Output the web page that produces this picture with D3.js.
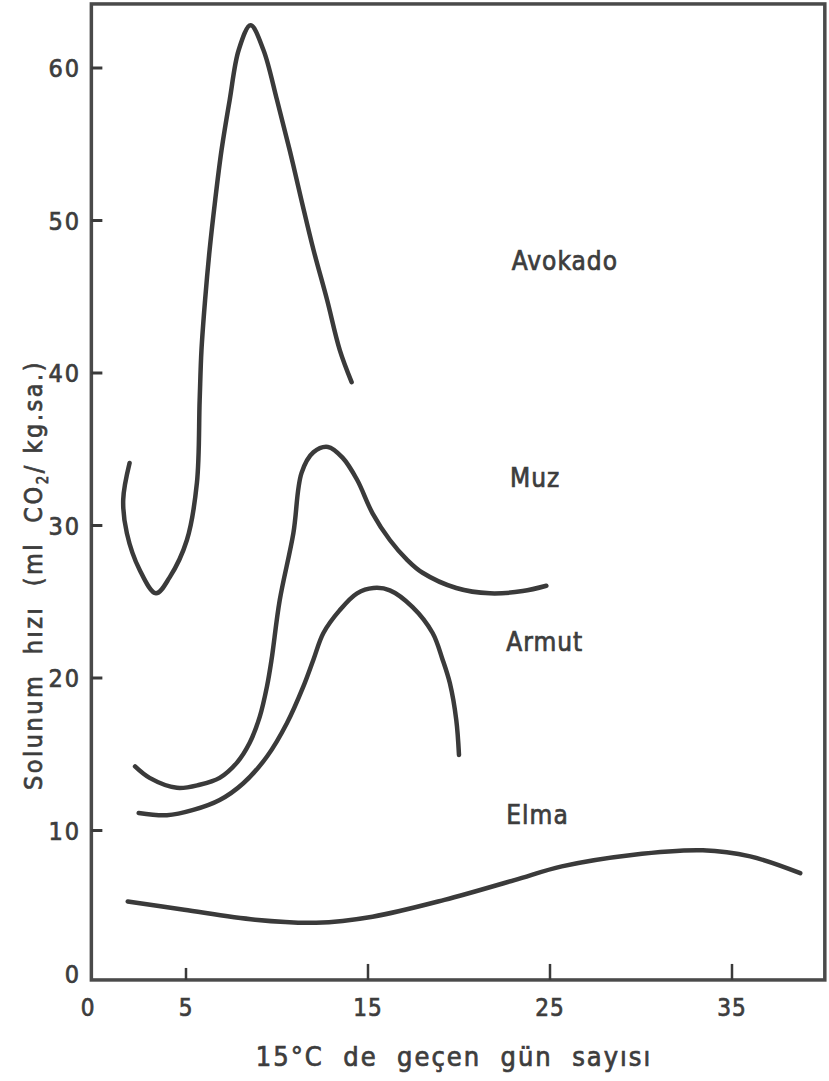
<!DOCTYPE html>
<html>
<head>
<meta charset="utf-8">
<script src="https://cdn.jsdelivr.net/npm/d3@7.9.0/dist/d3.min.js"></script>
<style>
  html, body { margin: 0; padding: 0; background: #fff; }
  svg { display: block; }
  text {
    font-family: "DejaVu Sans Condensed", "DejaVu Sans", sans-serif;
    font-stretch: condensed;
    fill: #3d3d3d;
    stroke: #3d3d3d;
    stroke-width: 0.7px;
  }
</style>
</head>
<body>
<svg id="chart" width="829" height="1081"></svg>
<script>
// Respiration rate (ml CO2 / kg.h) vs days at 15 °C
const avokado = [
  [1.9, 34.1], [1.55, 31.7], [1.75, 29.5], [2.45, 27.1], [3.35, 25.55],
  [4.1, 26.6], [5.05, 29.05], [5.6, 32.8], [5.75, 38.2], [5.85, 41.5],
  [6.05, 44.8], [6.3, 48.1], [6.6, 51.3], [6.95, 54.6], [7.4, 57.9],
  [7.9, 61.2], [8.55, 62.8], [9.25, 61.2], [10.0, 57.9], [10.7, 54.6],
  [11.35, 51.3], [12.0, 48.1], [12.75, 44.8], [13.45, 41.5], [14.1, 39.4]
];

const muz = [
  [2.2, 14.2], [3.0, 13.45], [4.5, 12.8], [5.75, 13.0], [6.85, 13.45],
  [7.8, 14.45], [8.5, 15.75], [9.05, 17.45], [9.45, 19.45], [9.7, 21.2],
  [10.15, 25.1], [10.9, 29.5], [11.35, 33.45], [12.0, 34.8], [12.8, 35.15],
  [13.6, 34.45], [14.4, 33.0], [15.25, 30.8], [16.2, 29.05], [17.15, 27.75],
  [18.0, 26.9], [19.85, 25.9], [21.7, 25.55], [23.5, 25.7], [24.8, 26.05]
];

const armut = [
  [2.4, 11.15], [3.95, 11.0], [5.4, 11.35], [6.85, 12.0], [8.15, 13.1],
  [9.45, 14.85], [10.55, 17.05], [11.45, 19.45], [12.0, 21.2], [12.55, 22.95],
  [13.45, 24.45], [14.4, 25.55], [15.3, 25.9], [16.2, 25.75], [17.45, 24.65],
  [18.55, 22.95], [19.1, 21.2], [19.5, 19.65], [19.85, 17.25], [20.0, 14.95]
];

const elma = [
  [1.8, 5.35], [4.9, 4.8], [8.8, 4.15], [12.15, 3.95], [15.25, 4.35],
  [19.2, 5.45], [23.05, 6.75], [25.65, 7.65], [29.5, 8.4], [33.4, 8.7],
  [36.0, 8.3], [38.75, 7.2]
];

// curve names and where the hand lettering sits (day, rate of baseline start)
const seriesLabels = [
  { name: "Avokado", at: [22.9, 46.75] },
  { name: "Muz", at: [22.8, 32.5] },
  { name: "Armut", at: [22.6, 21.8] },
  { name: "Elma", at: [22.6, 10.4] }
];

const yTicks = [0, 10, 20, 30, 40, 50, 60];
const xTicks = [5, 15, 25, 35];
const xTickLabels = [0, 5, 15, 25, 35];

const yTitle = "Solunum  hızı  (ml  CO";
const yTitleSub = "2";
const yTitleEnd = "/ kg.sa.)";
const xTitle = "15°C  de  geçen  gün  sayısı";

const ink = "#3a3a3a";

const svg = d3.select("#chart");

const x = d3.scaleLinear().domain([0, 40]).range([95, 823]);
const y = d3.scaleLinear().domain([0, 60]).range([983, 68]);

// frame box
svg.append("rect")
  .attr("x", x(-0.2))
  .attr("y", y(64.2))
  .attr("width", x(40.1) - x(-0.2))
  .attr("height", y(0.2) - y(64.2))
  .attr("fill", "none")
  .attr("stroke", "#4a4a4a")
  .attr("stroke-width", 3.5);

// y ticks point inward
svg.append("g")
  .selectAll("line")
  .data(yTicks.filter((d) => d > 0))
  .join("line")
  .attr("x1", x(-0.2))
  .attr("x2", x(-0.2) + 11)
  .attr("y1", (d) => y(d))
  .attr("y2", (d) => y(d))
  .attr("stroke", ink)
  .attr("stroke-width", 3);

svg.append("g")
  .selectAll("text")
  .data(yTicks)
  .join("text")
  .attr("x", 81)
  .attr("y", (d) => (d === 0 ? y(d) - 9 : y(d)))
  .attr("dy", "0.36em")
  .attr("text-anchor", "end")
  .attr("font-size", 25)
  .attr("letter-spacing", 2)
  .text((d) => d);

// x ticks point up from the base line
svg.append("g")
  .selectAll("line")
  .data(xTicks)
  .join("line")
  .attr("x1", (d) => x(d))
  .attr("x2", (d) => x(d))
  .attr("y1", y(0.2))
  .attr("y2", (d) => y(0.2) - (d === 5 ? 12 : 16))
  .attr("stroke", ink)
  .attr("stroke-width", 2.5);

svg.append("g")
  .selectAll("text")
  .data(xTickLabels)
  .join("text")
  .attr("x", (d) => (d === 0 ? x(d) - 7 : x(d)))
  .attr("y", 1016)
  .attr("text-anchor", "middle")
  .attr("font-size", 24)
  .attr("letter-spacing", 1)
  .text((d) => d);

// axis titles
const yt = svg.append("text")
  .attr("transform", "translate(42,575) rotate(-90)")
  .attr("text-anchor", "middle")
  .attr("font-size", 25)
  .attr("letter-spacing", 2.5)
  .style("white-space", "pre");
yt.append("tspan").text(yTitle);
yt.append("tspan").attr("font-size", 15).attr("dy", 6).text(yTitleSub);
yt.append("tspan").attr("dy", -6).text(yTitleEnd);

svg.append("text")
  .attr("x", 454)
  .attr("y", 1066)
  .attr("text-anchor", "middle")
  .attr("font-size", 27)
  .attr("letter-spacing", 2)
  .style("white-space", "pre")
  .text(xTitle);

// curves
const line = d3.line()
  .x((d) => x(d[0]))
  .y((d) => y(d[1]))
  .curve(d3.curveCatmullRom.alpha(0.5));

svg.append("g")
  .selectAll("path")
  .data([avokado, muz, armut, elma])
  .join("path")
  .attr("d", line)
  .attr("fill", "none")
  .attr("stroke", ink)
  .attr("stroke-width", 4.5)
  .attr("stroke-linecap", "round")
  .attr("stroke-linejoin", "round");

svg.append("g")
  .selectAll("text")
  .data(seriesLabels)
  .join("text")
  .attr("x", (d) => x(d.at[0]))
  .attr("y", (d) => y(d.at[1]))
  .attr("font-size", 26)
  .attr("letter-spacing", 1)
  .text((d) => d.name);
</script>
</body>
</html>
